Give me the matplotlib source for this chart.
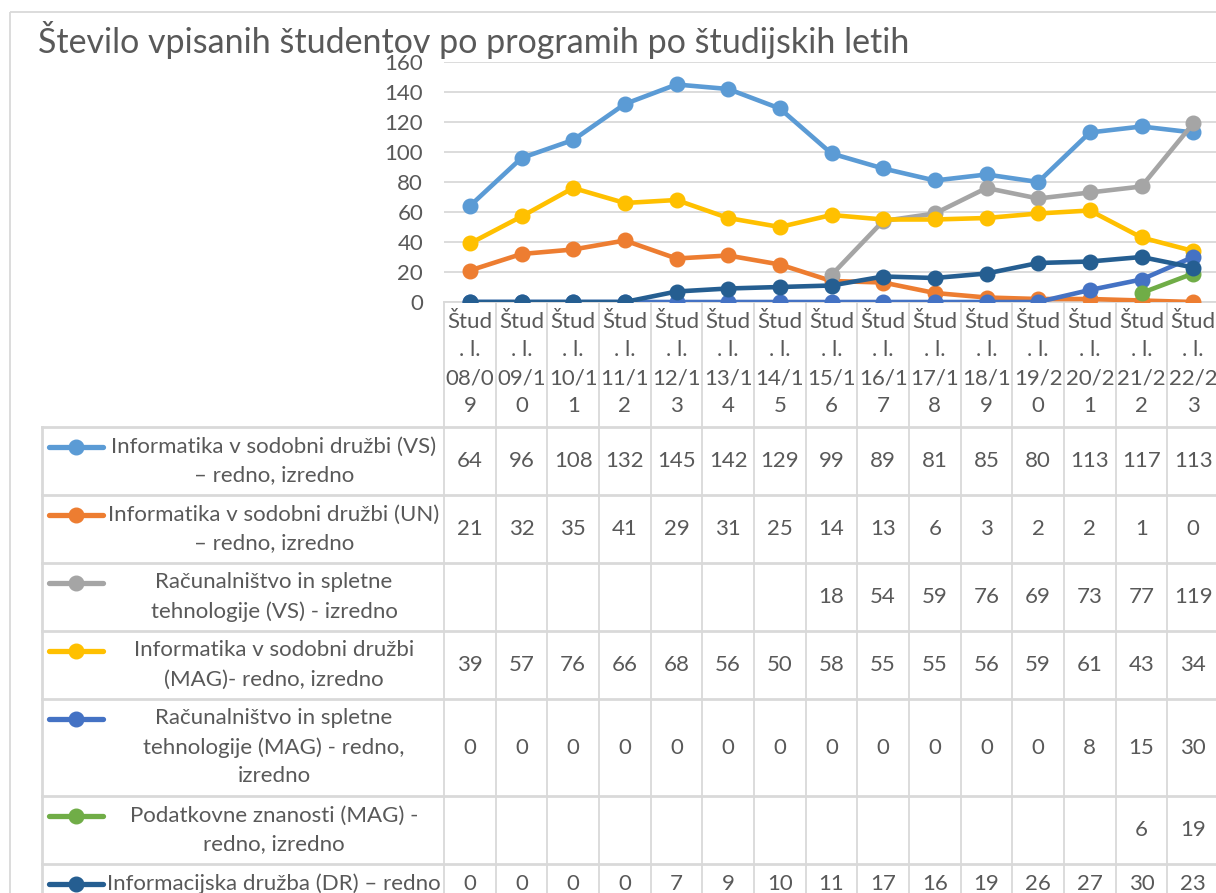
import matplotlib
matplotlib.use("Agg")
import matplotlib.pyplot as plt
from matplotlib.patches import Rectangle

plt.rcParams['font.family'] = ['Lato', 'DejaVu Sans']

# data
years = ["08/09", "09/10", "10/11", "11/12", "12/13", "13/14", "14/15", "15/16",
         "16/17", "17/18", "18/19", "19/20", "20/21", "21/22", "22/23"]
names = [
    "Informatika v sodobni družbi (VS)\n– redno, izredno",
    "Informatika v sodobni družbi (UN)\n– redno, izredno",
    "Računalništvo in spletne\ntehnologije (VS) - izredno",
    "Informatika v sodobni družbi\n(MAG)- redno, izredno",
    "Računalništvo in spletne\ntehnologije (MAG) - redno,\nizredno",
    "Podatkovne znanosti (MAG) -\nredno, izredno",
    "Informacijska družba (DR) – redno",
]
isd_vs = [64, 96, 108, 132, 145, 142, 129, 99, 89, 81, 85, 80, 113, 117, 113]
isd_un = [21, 32, 35, 41, 29, 31, 25, 14, 13, 6, 3, 2, 2, 1, 0]
rst_vs = [None] * 7 + [18, 54, 59, 76, 69, 73, 77, 119]
isd_mag = [39, 57, 76, 66, 68, 56, 50, 58, 55, 55, 56, 59, 61, 43, 34]
rst_mag = [0, 0, 0, 0, 0, 0, 0, 0, 0, 0, 0, 0, 8, 15, 30]
pz_mag = [None] * 13 + [6, 19]
id_dr = [0, 0, 0, 0, 7, 9, 10, 11, 17, 16, 19, 26, 27, 30, 23]
series = [isd_vs, isd_un, rst_vs, isd_mag, rst_mag, pz_mag, id_dr]
colors = ["#5B9BD5", "#ED7D31", "#A5A5A5", "#FFC000", "#4472C4", "#70AD47", "#255E91"]

W, H = 1216, 893
txt = "#595959"
grid = "#D9D9D9"
fs = 16

# layout (pixels)
left, right = 444, 1219
top, zero = 62, 302
ncol = len(years)
colw = (right - left) / ncol

fig = plt.figure(figsize=(W / 100, H / 100), dpi=100)

# overlay for table, border and title
tab = fig.add_axes([0, 0, 1, 1])
tab.set_xlim(0, W)
tab.set_ylim(H, 0)
tab.axis("off")
tab.add_patch(Rectangle((10, 12), 1400, 1000, fill=False, ec=grid, lw=1.3))
tab.text(38, 53, "Število vpisanih študentov po programih po študijskih letih",
         fontsize=24.5, color=txt, va="baseline", ha="left")

# chart
ax = fig.add_axes([left / W, 1 - zero / H, (right - left) / W, (zero - top) / H])
x = list(range(ncol))
for vals, c in zip(series, colors):
    xs = [i for i, v in zip(x, vals) if v is not None]
    ys = [v for v in vals if v is not None]
    ax.plot(xs, ys, color=c, lw=3.3, marker="o", ms=10.5, solid_capstyle="round")
ax.set_xlim(-0.5, ncol - 0.5)
ax.set_ylim(0, 160)
ax.set_yticks(range(0, 161, 20))
ax.set_xticks([])
ax.tick_params(axis="y", length=0, pad=15, labelsize=fs, labelcolor=txt)
ax.yaxis.grid(True, color=grid, lw=1.3)
ax.set_axisbelow(True)
for s in ax.spines.values():
    s.set_visible(False)
ax.set_facecolor("none")

# data table
line_h = 29
row_tops = [427]
for n in names:
    row_tops.append(row_tops[-1] + line_h * (n.count("\n") + 1) + 10)

tab.plot([left, right], [zero, zero], color=grid, lw=1.3)
for k in range(ncol + 1):
    xx = left + k * colw
    tab.plot([xx, xx], [zero, H + 20], color=grid, lw=1.3)
for yy in row_tops:
    tab.plot([42, right], [yy, yy], color=grid, lw=2)
tab.plot([42, 42], [row_tops[0], H + 20], color=grid, lw=2)

# header categories
hc = (zero + row_tops[0]) / 2
for i, yr in enumerate(years):
    cx = left + (i + 0.5) * colw
    lines = ["Štud", ". l.", yr[:4], yr[4:]]
    for k, s in enumerate(lines):
        tab.text(cx, hc + (k - 1.5) * 28, s, fontsize=fs, color=txt,
                 ha="center", va="center")

# legend rows and values
for r, (n, vals, c) in enumerate(zip(names, series, colors)):
    y0, y1 = row_tops[r], row_tops[r + 1]
    yc = (y0 + y1) / 2
    parts = n.split("\n")
    first = yc - (len(parts) - 1) / 2 * line_h
    for k, s in enumerate(parts):
        tab.text(274, first + k * line_h, s, fontsize=fs, color=txt,
                 ha="center", va="center")
    tab.plot([49, 103], [first, first], color=c, lw=3.8, solid_capstyle="round")
    tab.plot([76], [first], color=c, marker="o", ms=10.5)
    for i, v in enumerate(vals):
        if v is None:
            continue
        tab.text(left + (i + 0.5) * colw, yc, str(v), fontsize=fs, color=txt,
                 ha="center", va="center")

fig.savefig("out.png", dpi=100)
